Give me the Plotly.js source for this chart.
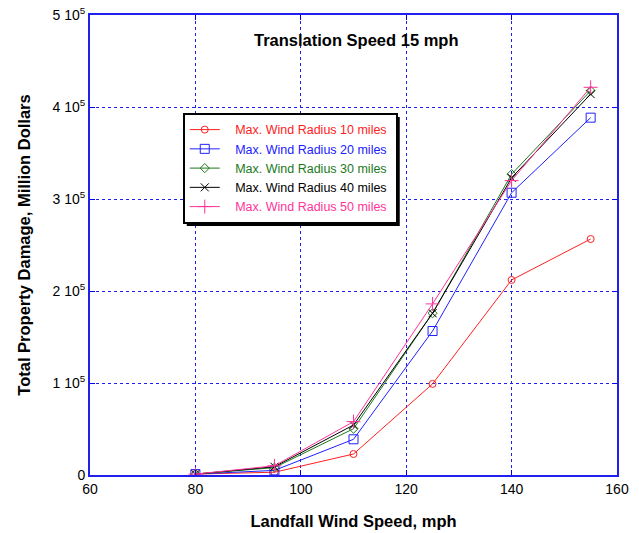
<!DOCTYPE html>
<html><head><meta charset="utf-8">
<script src="https://cdn.plot.ly/plotly-3.0.1.min.js"></script>
<style>body{margin:0;padding:0;background:#fff}#chart{width:639px;height:533px}</style>
</head><body><div id="chart"></div>
<script>
const windSpeed = [80, 95, 110, 125, 140, 155];
const radius10 = [1000, 3000, 22800, 99000, 212000, 256500];
const radius20 = [1000, 5000, 38800, 156500, 306800, 388400];
const radius30 = [1000, 8000, 50300, 175800, 327000, 417700];
const radius40 = [1000, 9000, 54300, 175800, 323000, 414000];
const radius50 = [1000, 10000, 58000, 186000, 320000, 421400];
const seriesNames = ["Max. Wind Radius 10 miles","Max. Wind Radius 20 miles","Max. Wind Radius 30 miles","Max. Wind Radius 40 miles","Max. Wind Radius 50 miles"];
const yTickVals = [0, 100000, 200000, 300000, 400000, 500000];
const yTickText = ["0", "1 10<sup>5</sup>", "2 10<sup>5</sup>", "3 10<sup>5</sup>", "4 10<sup>5</sup>", "5 10<sup>5</sup>"];
const xTickVals = [60, 80, 100, 120, 140, 160];

const colors = ["#ff2020", "#2020ff", "#1a7a1a", "#000000", "#ff3399"];
const symbols = ["circle-open", "square-open", "diamond-open", "x-thin-open", "cross-thin-open"];
const sizes = [7, 9, 7, 8, 10];
const ys = [radius10, radius20, radius30, radius40, radius50];

const traces = ys.map((y, i) => ({
  x: windSpeed, y: y, type: 'scatter', mode: 'lines+markers',
  name: '&nbsp;&nbsp;&nbsp;<span style="color:' + colors[i] + '">' + seriesNames[i] + '</span>&nbsp;',
  line: {color: colors[i], width: 1},
  marker: {symbol: symbols[i], size: sizes[i], color: colors[i], line: {color: colors[i], width: 1}}
}));

const L = 90, R = 22, T = 15, B = 58;
const layout = {
  width: 639, height: 533,
  margin: {l: L, r: R, t: T, b: B},
  paper_bgcolor: '#fff', plot_bgcolor: '#fff',
  font: {family: 'Liberation Sans, Arial, sans-serif', size: 14, color: '#000'},
  showlegend: true,
  legend: {
    x: 0.176, y: 0.787, xanchor: 'left', yanchor: 'top',
    bgcolor: '#fff', bordercolor: '#000', borderwidth: 2,
    font: {size: 12.5, family: 'Liberation Sans, Arial, sans-serif'},
    tracegroupgap: 0
  },
  xaxis: {
    range: [60, 160], tickvals: xTickVals, ticks: 'inside', ticklen: 5,
    tickcolor: '#0000ee', showline: true, linecolor: '#2020ee', linewidth: 2, mirror: 'ticks',
    showgrid: true, gridcolor: '#2020ee', griddash: 'dot', gridwidth: 1,
    zeroline: false, tickfont: {size: 14},
    title: {text: '<b>Landfall Wind Speed, mph</b>', font: {size: 16.5}, standoff: 20}
  },
  yaxis: {
    range: [0, 500000], tickvals: yTickVals, ticktext: yTickText, ticks: 'inside', ticklen: 5,
    tickcolor: '#0000ee', showline: true, linecolor: '#2020ee', linewidth: 2, mirror: 'ticks',
    showgrid: true, gridcolor: '#2020ee', griddash: 'dot', gridwidth: 1,
    zeroline: false, tickfont: {size: 14},
    title: {text: '<b>Total Property Damage, Million Dollars</b>', font: {size: 16.5}, standoff: 18}
  },
  annotations: [{
    text: '<b>Translation Speed 15 mph</b>', xref: 'paper', yref: 'paper',
    x: 0.505, y: (475 - 40) / 460, xanchor: 'center', yanchor: 'middle', showarrow: false,
    font: {size: 16.5, color: '#000'}
  }]
};
Plotly.newPlot('chart', traces, layout, {displayModeBar: false, staticPlot: true}).then(gd => {
  const bg = gd.querySelector('.legend .bg');
  if (!bg) return;
  const r = bg.getBoundingClientRect();
  const c = gd.getBoundingClientRect();
  const W = 639 - L - R, H = 533 - T - B;
  const px = v => (v - c.left - L) / W;
  const py = v => 1 - (v - c.top - T) / H;
  const off = 3;
  return Plotly.relayout(gd, {shapes: [{
    type: 'rect', xref: 'paper', yref: 'paper',
    x0: px(r.left + off), x1: px(r.right + off), y0: py(r.bottom + off), y1: py(r.top + off),
    fillcolor: '#000', line: {width: 0}, layer: 'above'
  }]});
});
</script></body></html>
